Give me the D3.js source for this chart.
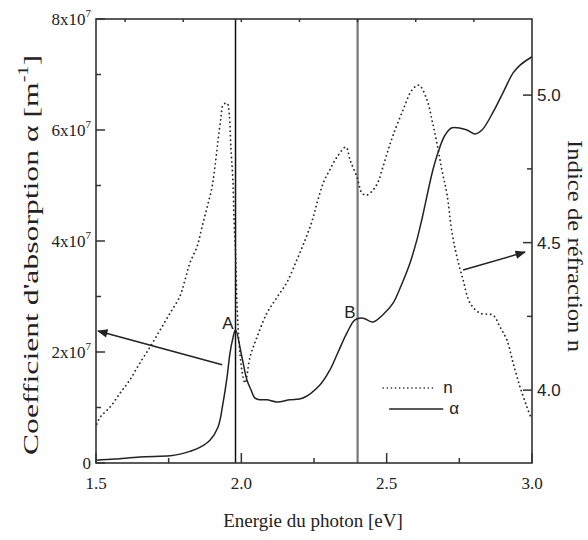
<!DOCTYPE html>
<meta charset="utf-8">

<!-- Load d3.js -->
<script src="https://cdn.jsdelivr.net/npm/d3@7"></script>

<div id="my_dataviz"></div>
<style>
    body {
        margin: 0;
        background: #fff;
    }
</style>

<script>
    // absorption coefficient alpha (units of 1e7 m^-1) vs photon energy (eV)
    var alphaEnergy = [1.50, 1.565, 1.651, 1.755, 1.789, 1.823, 1.857, 1.892, 1.920, 1.937, 1.951, 1.961, 1.971, 1.980,
        2.002, 2.019, 2.033, 2.047, 2.064, 2.088, 2.123, 2.167, 2.212, 2.271, 2.305, 2.333, 2.363, 2.391, 2.419,
        2.453, 2.487, 2.522, 2.546, 2.580, 2.604, 2.622, 2.659, 2.683, 2.701, 2.725, 2.776, 2.804, 2.828, 2.866,
        2.900, 2.935, 2.959, 3.00];
    var alphaValues = [0.05, 0.07, 0.11, 0.13, 0.16, 0.21, 0.28, 0.41, 0.65, 1.08, 1.55, 1.98, 2.25, 2.40,
        1.91, 1.50, 1.32, 1.17, 1.14, 1.14, 1.10, 1.14, 1.17, 1.41, 1.68, 2.00, 2.34, 2.58, 2.61,
        2.54, 2.67, 2.88, 3.15, 3.60, 4.02, 4.41, 5.28, 5.69, 5.91, 6.04, 6.00, 5.93, 6.00, 6.32,
        6.67, 7.03, 7.17, 7.32];

    // refractive index n vs photon energy (eV)
    var nEnergy = [1.503, 1.514, 1.548, 1.583, 1.616, 1.651, 1.686, 1.720, 1.755, 1.789, 1.806, 1.823, 1.847, 1.865,
        1.882, 1.899, 1.909, 1.920, 1.930, 1.937, 1.951, 1.958, 1.964, 1.971, 1.975, 1.981, 1.985, 1.995, 2.006,
        2.013, 2.030, 2.054, 2.088, 2.123, 2.157, 2.192, 2.219, 2.243, 2.262, 2.283, 2.305, 2.329, 2.360, 2.374,
        2.398, 2.415, 2.432, 2.453, 2.470, 2.487, 2.505, 2.522, 2.556, 2.587, 2.611, 2.639, 2.656, 2.673, 2.690,
        2.708, 2.725, 2.742, 2.763, 2.787, 2.821, 2.866, 2.890, 2.914, 2.935, 2.959, 2.983, 2.997];
    var nValues = [3.885, 3.908, 3.942, 3.990, 4.034, 4.092, 4.146, 4.203, 4.261, 4.319, 4.373, 4.431, 4.485, 4.553,
        4.620, 4.688, 4.756, 4.847, 4.925, 4.966, 4.973, 4.939, 4.824, 4.712, 4.576, 4.441, 4.295, 4.125, 4.044,
        4.024, 4.112, 4.180, 4.261, 4.315, 4.366, 4.444, 4.508, 4.572, 4.640, 4.705, 4.748, 4.790, 4.824, 4.780,
        4.722, 4.668, 4.661, 4.678, 4.705, 4.756, 4.814, 4.864, 4.949, 5.017, 5.034, 4.983, 4.915, 4.837, 4.746,
        4.661, 4.532, 4.451, 4.373, 4.295, 4.261, 4.254, 4.214, 4.169, 4.092, 4.010, 3.942, 3.905];

    // tick values and labels
    var xTicks = [1.5, 2.0, 2.5, 3.0];
    var xTickLabels = ["1.5", "2.0", "2.5", "3.0"];
    var xMinorTicks = [1.75, 2.25, 2.75];
    var topTicks = [1.6, 1.8, 2.0, 2.2, 2.4, 2.6, 2.8];
    var leftTicks = [0, 2, 4, 6, 8];
    var leftMinorTicks = [1, 3, 5, 7];
    var rightTicks = [4.0, 4.5, 5.0];
    var rightMinorTicks = [4.25, 4.75];

    // marker lines A and B
    var markerEnergy = [1.98, 2.40];
    var markerNames = ["A", "B"];
    var markerAlpha = [2.40, 2.60];

    var serif = "'Liberation Serif', 'Times New Roman', serif";
    var sans = "'Liberation Sans', Arial, sans-serif";

    // set the dimensions of the graph
    var margin = {top: 19, right: 56, bottom: 77, left: 96},
        width = 588 - margin.left - margin.right,
        height = 540 - margin.top - margin.bottom;

    var svg = d3.select("#my_dataviz")
        .append("svg")
        .attr("width", 588)
        .attr("height", 540)
        .append("g")
        .attr("transform", "translate(" + margin.left + "," + margin.top + ")");

    var x = d3.scaleLinear().domain([1.5, 3.0]).range([0, width]);
    var yL = d3.scaleLinear().domain([0, 8]).range([height, 0]);
    var yR = d3.scaleLinear().domain([3.753, 5.258]).range([height, 0]);

    // marker vertical lines
    svg.selectAll("marker-line")
        .data(markerEnergy)
        .enter()
        .append("line")
        .attr("x1", function(d) { return x(d); })
        .attr("x2", function(d) { return x(d); })
        .attr("y1", 0)
        .attr("y2", height)
        .attr("stroke", function(d, i) { return i == 0 ? "#111" : "#777"; })
        .attr("stroke-width", function(d, i) { return i == 0 ? 1.5 : 2.2; });

    // n curve (dotted)
    var nLine = d3.line()
        .x(function(d, i) { return x(nEnergy[i]); })
        .y(function(d) { return yR(d); })
        .curve(d3.curveCatmullRom);
    svg.append("path")
        .attr("d", nLine(nValues))
        .attr("fill", "none")
        .attr("stroke", "#2a2a2a")
        .attr("stroke-width", 1.8)
        .attr("stroke-linecap", "round")
        .attr("stroke-dasharray", "0.1,4.3");

    // alpha curve (solid)
    var aLine = d3.line()
        .x(function(d, i) { return x(alphaEnergy[i]); })
        .y(function(d) { return yL(d); })
        .curve(d3.curveCatmullRom);
    svg.append("path")
        .attr("d", aLine(alphaValues))
        .attr("fill", "none")
        .attr("stroke", "#222")
        .attr("stroke-width", 1.5);

    // frame
    svg.append("rect")
        .attr("width", width)
        .attr("height", height)
        .attr("fill", "none")
        .attr("stroke", "#333")
        .attr("stroke-width", 1.6);

    // ticks (all inward)
    function ticks(vals, scale, len, side) {
        svg.selectAll("t")
            .data(vals)
            .enter()
            .append("line")
            .attr("x1", function(d) { return side == "bottom" || side == "top" ? scale(d) : (side == "left" ? 0 : width); })
            .attr("x2", function(d) { return side == "bottom" || side == "top" ? scale(d) : (side == "left" ? len : width - len); })
            .attr("y1", function(d) { return side == "bottom" ? height : (side == "top" ? 0 : scale(d)); })
            .attr("y2", function(d) { return side == "bottom" ? height - len : (side == "top" ? len : scale(d)); })
            .attr("stroke", "#333")
            .attr("stroke-width", 1.5);
    }
    ticks(xTicks, x, 10, "bottom");
    ticks(xMinorTicks, x, 5, "bottom");
    ticks(topTicks, x, 3, "top");
    ticks(leftTicks, yL, 9, "left");
    ticks(leftMinorTicks, yL, 5, "left");
    ticks(rightTicks, yR, 9, "right");
    ticks(rightMinorTicks, yR, 5, "right");

    // bottom tick labels
    svg.selectAll("xl")
        .data(xTicks)
        .enter()
        .append("text")
        .attr("x", function(d) { return x(d); })
        .attr("y", height + 26)
        .attr("text-anchor", "middle")
        .style("font-family", serif)
        .style("font-size", "17px")
        .style("fill", "#222")
        .text(function(d, i) { return xTickLabels[i]; });

    // left tick labels with superscript exponent
    var ll = svg.selectAll("yl")
        .data(leftTicks)
        .enter()
        .append("text")
        .attr("x", -5)
        .attr("y", function(d) { return yL(d) + 6; })
        .attr("text-anchor", "end")
        .style("font-family", serif)
        .style("font-size", "17px")
        .style("fill", "#222");
    ll.append("tspan").text(function(d) { return d == 0 ? "0" : d + "x10"; });
    ll.append("tspan")
        .attr("dy", -8)
        .style("font-size", "11px")
        .text(function(d) { return d == 0 ? "" : "7"; });

    // right tick labels
    svg.selectAll("yr")
        .data(rightTicks)
        .enter()
        .append("text")
        .attr("x", width + 5)
        .attr("y", function(d) { return yR(d) + 6; })
        .style("font-family", sans)
        .style("font-size", "17px")
        .style("fill", "#222")
        .text(function(d) { return d.toFixed(1); });

    // axis titles
    svg.append("text")
        .attr("x", width / 2 - 1)
        .attr("y", height + 64)
        .attr("text-anchor", "middle")
        .style("font-family", serif)
        .style("font-size", "19px")
        .style("fill", "#222")
        .text("Energie du photon [eV]");

    var lt = svg.append("text")
        .attr("transform", "translate(-58," + (height / 2 + 14) + ") rotate(-90)")
        .attr("text-anchor", "middle")
        .attr("textLength", 400)
        .attr("lengthAdjust", "spacingAndGlyphs")
        .style("font-family", serif)
        .style("font-size", "22px")
        .style("fill", "#222");
    lt.append("tspan").text("Coefficient d'absorption  \u03b1 [m");
    lt.append("tspan").attr("dy", -10).style("font-size", "14px").text("-1");
    lt.append("tspan").attr("dy", 10).text("]");

    svg.append("text")
        .attr("transform", "translate(" + (width + 36) + "," + (height / 2 + 5) + ") rotate(90)")
        .attr("text-anchor", "middle")
        .attr("textLength", 212)
        .attr("lengthAdjust", "spacingAndGlyphs")
        .style("font-family", serif)
        .style("font-size", "22px")
        .style("fill", "#222")
        .text("Indice de r\u00e9fraction n");

    // A / B labels
    svg.selectAll("ml")
        .data(markerEnergy)
        .enter()
        .append("text")
        .attr("x", function(d) { return x(d) - 2; })
        .attr("y", function(d, i) { return yL(markerAlpha[i]) - 1; })
        .attr("text-anchor", "end")
        .style("font-family", sans)
        .style("font-size", "17px")
        .style("fill", "#222")
        .text(function(d, i) { return markerNames[i]; });

    // arrows pointing to the axes
    svg.append("defs").append("marker")
        .attr("id", "head")
        .attr("viewBox", "0 0 10 10")
        .attr("refX", 9).attr("refY", 5)
        .attr("markerWidth", 9).attr("markerHeight", 7)
        .attr("orient", "auto")
        .append("path")
        .attr("d", "M0,1 L10,5 L0,9 Z")
        .attr("fill", "#222");

    svg.append("line")
        .attr("x1", x(1.934)).attr("y1", yL(1.77))
        .attr("x2", x(1.507)).attr("y2", yL(2.38))
        .attr("stroke", "#222").attr("stroke-width", 1.5)
        .attr("marker-end", "url(#head)");
    svg.append("line")
        .attr("x1", x(2.763)).attr("y1", yR(4.407))
        .attr("x2", x(2.976)).attr("y2", yR(4.468))
        .attr("stroke", "#222").attr("stroke-width", 1.5)
        .attr("marker-end", "url(#head)");

    // legend
    var lg = svg.append("g").attr("transform", "translate(" + x(2.488) + "," + yR(4.007) + ")");
    lg.append("line")
        .attr("x1", 0).attr("x2", 52).attr("y1", 0).attr("y2", 0)
        .attr("stroke", "#222").attr("stroke-width", 1.6)
        .attr("stroke-linecap", "round")
        .attr("stroke-dasharray", "0.1,4");
    lg.append("text")
        .attr("x", 60).attr("y", 5)
        .style("font-family", sans).style("font-size", "17px").style("fill", "#222")
        .text("n");
    lg.append("line")
        .attr("x1", 6).attr("x2", 60).attr("y1", 21).attr("y2", 21)
        .attr("stroke", "#222").attr("stroke-width", 1.5);
    lg.append("text")
        .attr("x", 66).attr("y", 26)
        .style("font-family", sans).style("font-size", "17px").style("fill", "#222")
        .text("\u03b1");
</script>
